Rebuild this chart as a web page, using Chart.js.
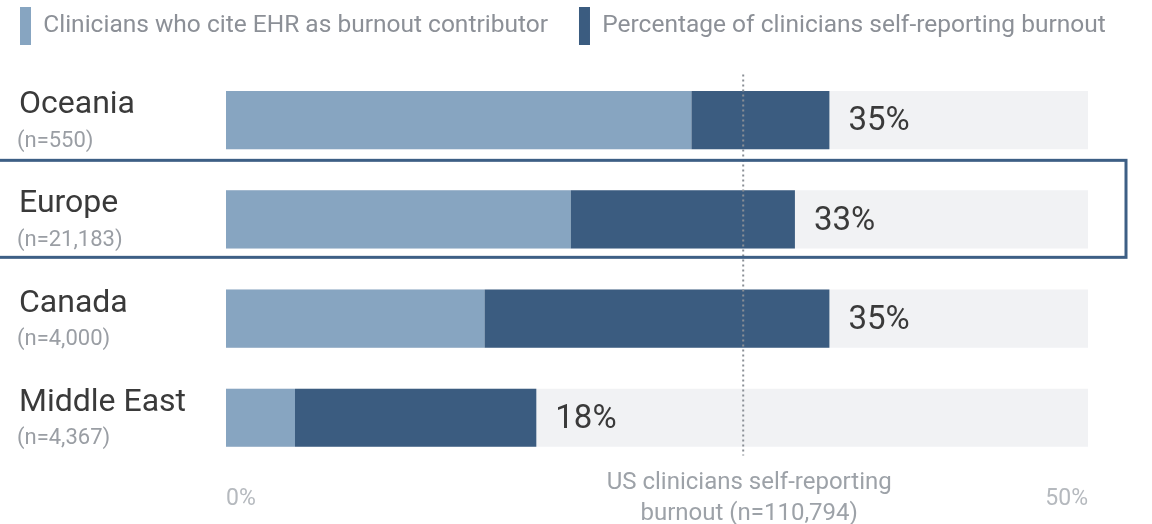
<!DOCTYPE html>
<html>
<head>
<meta charset="utf-8">
<script src="https://cdn.jsdelivr.net/npm/chart.js@4.4.1/dist/chart.umd.min.js"></script>
<style>
  html, body { margin: 0; padding: 0; background: #fff; }
  canvas { display: block; }
</style>
</head>
<body>
<canvas id="burnoutChart" width="1152" height="524"></canvas>
<script>
// ---- datos ----
const regions = ["Oceania", "Europe", "Canada", "Middle East"];
const sampleSizes = ["(n=550)", "(n=21,183)", "(n=4,000)", "(n=4,367)"];
const ehrValues = [27, 20, 15, 4];
const burnoutValues = [35, 33, 35, 18];
const trackValues = [50, 50, 50, 50];
const usBurnout = 30;
const usNote = ["US clinicians self-reporting", "burnout (n=110,794)"];
const legendLabels = ["Clinicians who cite EHR as burnout contributor", "Percentage of clinicians self-reporting burnout"];
const highlighted = "Europe";

const FONT = "Roboto, 'Noto Sans', sans-serif";
const LIGHT = "#87a5c1";
const DARK = "#3b5c80";

// legend: one row that may run past the plot's right edge, fixed height
const legendFit = {
  id: "legendFit",
  afterInit(chart) {
    if (!chart.legend) return;
    const fitOriginal = chart.legend.fit;
    chart.legend.fit = function () {
      this.maxWidth = 1400;
      fitOriginal.call(this);
      this.height = 94.5;
    };
  },
  afterLayout(chart) {
    if (!chart.legend) return;
    chart.legend.right = 1400;
    chart.legend.width = 1400 - chart.legend.left;
  }
};

// labels, reference line and highlight box
const extras = {
  id: "extras",
  afterDraw(chart) {
    const { ctx, chartArea } = chart;
    const x = chart.scales.x;
    const y = chart.scales.y;
    ctx.save();

    // US reference line
    const ux = x.getPixelForValue(usBurnout);
    ctx.strokeStyle = "#8a8f96";
    ctx.lineWidth = 2;
    ctx.setLineDash([2, 3]);
    ctx.beginPath();
    ctx.moveTo(ux, chartArea.top + 4);
    ctx.lineTo(ux, chartArea.bottom - 12);
    ctx.stroke();
    ctx.setLineDash([]);

    // note under the line
    ctx.fillStyle = "#9da2a8";
    ctx.font = "24px " + FONT;
    ctx.textAlign = "center";
    ctx.textBaseline = "middle";
    ctx.fillText(usNote[0], ux + 6, 483);
    ctx.fillText(usNote[1], ux + 6, 514);

    regions.forEach((r, i) => {
      const cy = y.getPixelForValue(i);

      // region name + sample size
      ctx.textAlign = "left";
      ctx.fillStyle = "#3a3a3a";
      ctx.font = "32px " + FONT;
      ctx.fillText(r, 19, cy - 15);
      ctx.fillStyle = "#9a9ea4";
      ctx.font = "22px " + FONT;
      ctx.fillText(sampleSizes[i], 17, cy + 21);

      // value label
      ctx.fillStyle = "#3a3a3a";
      ctx.font = "33px " + FONT;
      ctx.fillText(burnoutValues[i] + "%", x.getPixelForValue(burnoutValues[i]) + 19, cy + 2);

      if (r === highlighted) {
        ctx.strokeStyle = "#3d5f85";
        ctx.lineWidth = 3;
        ctx.strokeRect(-2, cy - 59, 1128, 97);
      }
    });

    ctx.restore();
  }
};

const ctx = document.getElementById("burnoutChart");

new Chart(ctx, {
  type: "bar",
  data: {
    labels: regions,
    datasets: [
      {
        label: "track",
        data: trackValues,
        backgroundColor: "#f1f2f4",
        order: 3
      },
      {
        label: legendLabels[0],
        data: ehrValues,
        backgroundColor: LIGHT,
        order: 2
      },
      {
        label: legendLabels[1],
        data: ehrValues.map((v, i) => [v, burnoutValues[i]]),
        backgroundColor: DARK,
        order: 1
      }
    ]
  },
  options: {
    indexAxis: "y",
    responsive: false,
    animation: false,
    grouped: false,
    barPercentage: 0.586,
    categoryPercentage: 1,
    borderWidth: 0,
    layout: {
      padding: { top: -24, right: 64, bottom: -7, left: -11 }
    },
    plugins: {
      tooltip: { enabled: false },
      legend: {
        position: "top",
        align: "start",
        labels: {
          boxWidth: 11,
          boxHeight: 38,
          padding: 31,
          color: "#8c9097",
          font: { family: FONT, size: 24.5 },
          filter: item => item.datasetIndex > 0,
          sort: (a, b) => a.datasetIndex - b.datasetIndex
        }
      }
    },
    scales: {
      x: {
        min: 0,
        max: 50,
        grid: { display: false, drawTicks: false },
        border: { display: false },
        ticks: {
          stepSize: 50,
          align: "inner",
          padding: 18,
          color: "#b5b9be",
          font: { family: FONT, size: 23 },
          callback: v => v + "%"
        }
      },
      y: {
        grid: { display: false, drawTicks: false },
        border: { display: false },
        ticks: { display: false },
        afterFit: s => { s.width = 237; }
      }
    }
  },
  plugins: [legendFit, extras]
});
</script>
</body>
</html>
